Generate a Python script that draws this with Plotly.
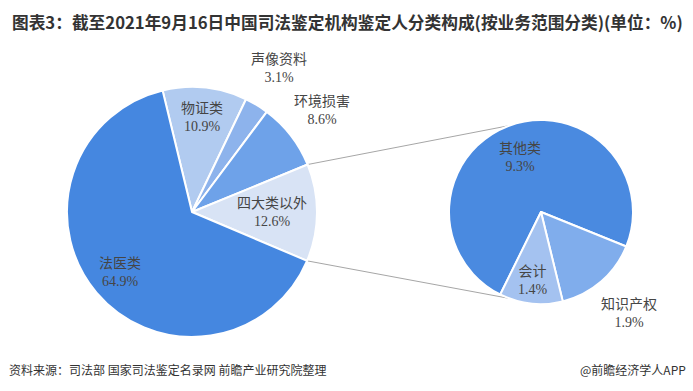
import math
import plotly.graph_objects as go

# ---- data ----
main_labels = ["物证类", "声像资料", "环境损害", "四大类以外", "法医类"]
main_values = [10.9, 3.1, 8.6, 12.6, 64.9]

sub_labels = ["其他类", "知识产权", "会计"]
sub_values = [9.3, 1.9, 1.4]

title_text = "图表3：截至2021年9月16日中国司法鉴定机构鉴定人分类构成(按业务范围分类)(单位：%)"
source_text = "资料来源：司法部 国家司法鉴定名录网 前瞻产业研究院整理"
brand_text = "@前瞻经济学人APP"

# ---- style ----
main_colors = ["#b1cbf0", "#8db3ec", "#6ea2e9", "#d8e3f5", "#4587e0"]
sub_colors = ["#4a8ae0", "#80adec", "#a4c2f0"]
main_label_r = [95, 168, 165, 80, 94]     # label distance from pie centre (px)
sub_label_r = [58, 134, 69]

W, H = 693, 391
label_font = dict(family="Liberation Serif, Noto Sans CJK SC", size=14, color="#454545")

L_cx, L_cy, L_r = 192, 212, 125
R_cx, R_cy, R_r = 541, 212, 92
main_rotation = -13.6
sub_rotation = 206.3

def dom(cx, cy, r):
    return dict(x=[(cx - r) / W, (cx + r) / W], y=[(H - cy - r) / H, (H - cy + r) / H])

def to_paper(cx, cy, r, ang):
    t = math.radians(ang)
    return (cx + r * math.sin(t)) / W, 1 - (cy - r * math.cos(t)) / H

fig = go.Figure()
fig.add_trace(go.Pie(
    labels=main_labels, values=main_values, sort=False, direction="clockwise",
    rotation=main_rotation, marker=dict(colors=main_colors, line=dict(color="white", width=2)),
    textinfo="none", domain=dom(L_cx, L_cy, L_r), showlegend=False, hoverinfo="label+value",
))
fig.add_trace(go.Pie(
    labels=sub_labels, values=sub_values, sort=False, direction="clockwise",
    rotation=sub_rotation, marker=dict(colors=sub_colors, line=dict(color="white", width=2)),
    textinfo="none", domain=dom(R_cx, R_cy, R_r), showlegend=False, hoverinfo="label+value",
))

def add_labels(labels, values, rot, cx, cy, radii):
    tot = sum(values)
    start = rot
    for lab, v, rr in zip(labels, values, radii):
        span = 360 * v / tot
        x, y = to_paper(cx, cy, rr, start + span / 2)
        fig.add_annotation(text=f"{lab}<br>{v:.1f}%", xref="paper", yref="paper", x=x, y=y,
                           xanchor="center", yanchor="middle", showarrow=False, font=label_font)
        start += span

add_labels(main_labels, main_values, main_rotation, L_cx, L_cy, main_label_r)
add_labels(sub_labels, sub_values, sub_rotation, R_cx, R_cy, sub_label_r)

# connector lines: from the edges of the "四大类以外" slice to the sub pie
tot = sum(main_values)
idx = main_labels.index("四大类以外")
a0 = main_rotation + 360 * sum(main_values[:idx]) / tot
a1 = a0 + 360 * main_values[idx] / tot
for a_left, a_right in [(a0, -20), (a1, 200)]:
    x0, y0 = to_paper(L_cx, L_cy, L_r, a_left)
    x1, y1 = to_paper(R_cx, R_cy, R_r, a_right)
    fig.add_shape(type="line", xref="paper", yref="paper", x0=x0, y0=y0, x1=x1, y1=y1,
                  line=dict(color="#a6a6a6", width=1), layer="below")

fig.add_annotation(text="<b>" + title_text + "</b>", xref="paper", yref="paper",
                   x=10 / W, y=1 - 22 / H, xanchor="left", yanchor="middle", showarrow=False,
                   font=dict(family="Noto Sans CJK SC", size=16.7, color="#333333"))
fig.add_annotation(text=source_text, xref="paper", yref="paper",
                   x=7 / W, y=1 - 369 / H, xanchor="left", yanchor="middle", showarrow=False,
                   font=dict(family="Noto Sans CJK SC", size=12, color="#333333"))
fig.add_annotation(text=brand_text, xref="paper", yref="paper",
                   x=688 / W, y=1 - 369 / H, xanchor="right", yanchor="middle", showarrow=False,
                   font=dict(family="Noto Sans CJK SC", size=12, color="#333333"))

fig.update_layout(width=W, height=H, margin=dict(l=0, r=0, t=0, b=0),
                  paper_bgcolor="white", plot_bgcolor="white")
fig.write_html("out.html", post_script="document.body.style.margin='0';",
               config={"displayModeBar": False})
